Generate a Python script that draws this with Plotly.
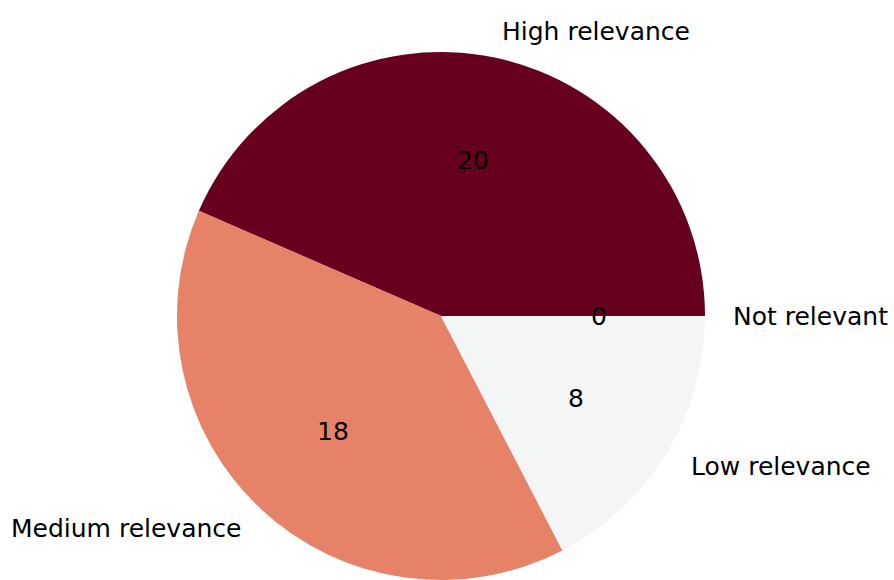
import math
import plotly.graph_objects as go

# Relevance categories and counts (drawn counter-clockwise from 3 o'clock)
labels = ["Not relevant", "High relevance", "Medium relevance", "Low relevance"]
values = [0, 20, 18, 8]
colors = ["#053061", "#67001f", "#e58267", "#f4f6f6"]

W, H = 894, 580
# Pie placement in pixels
cx_px, cy_px, r_px = 441, 316, 264
dom_x = [(cx_px - r_px) / W, (cx_px + r_px) / W]
dom_y = [(H - cy_px - r_px) / H, (H - cy_px + r_px) / H]

fig = go.Figure(go.Pie(
    labels=labels,
    values=values,
    sort=False,
    direction="counterclockwise",
    rotation=90,
    marker=dict(colors=colors, line=dict(width=0)),
    textinfo="none",
    hoverinfo="label+value",
    domain=dict(x=dom_x, y=dom_y),
    showlegend=False,
))

font = dict(family="DejaVu Sans", size=25, color="black")
total = sum(values)
start = 0.0
for lab, val in zip(labels, values):
    span = 360.0 * val / total
    mid = math.radians(start + span / 2)
    start += span
    c, s = math.cos(mid), math.sin(mid)
    # category label outside the wedge
    lx = cx_px + 1.1 * r_px * c
    ly = cy_px - 1.1 * r_px * s
    fig.add_annotation(
        x=lx / W, y=1 - ly / H, xref="paper", yref="paper",
        text=lab, showarrow=False, font=font,
        xanchor="left" if c >= 0 else "right", yanchor="middle",
    )
    # count inside the wedge
    vx = cx_px + 0.6 * r_px * c
    vy = cy_px - 0.6 * r_px * s
    fig.add_annotation(
        x=vx / W, y=1 - vy / H, xref="paper", yref="paper",
        text=str(val), showarrow=False, font=font,
        xanchor="center", yanchor="middle",
    )

fig.update_layout(
    width=W, height=H,
    margin=dict(l=0, r=0, t=0, b=0),
    paper_bgcolor="white",
    plot_bgcolor="white",
)

fig.write_html("out.html")
